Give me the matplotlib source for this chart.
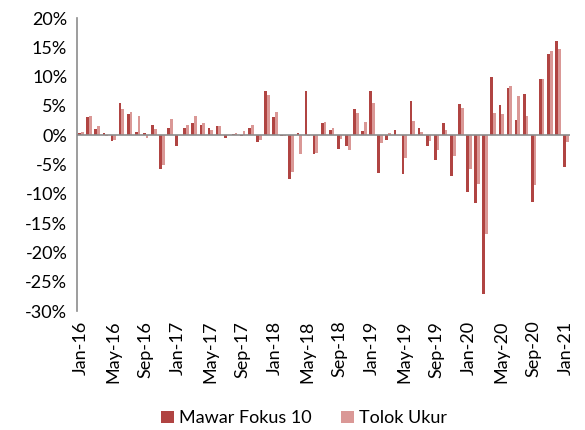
import numpy as np
import pandas as pd
import matplotlib
matplotlib.use("Agg")
import matplotlib.pyplot as plt
from matplotlib.patches import Patch

plt.rcParams["font.family"] = ["Lato", "DejaVu Sans"]

# Monthly returns (%), Jan-16 .. Jan-21
months = pd.date_range("2016-01-01", "2021-01-01", freq="MS").strftime("%b-%y").tolist()

mawar_fokus_10 = [
    0.3, 3.1, 1.05, 0.3, -1.05, 5.5, 3.7, 0.6, 0.4,
    1.7, -5.75, 1.3, -1.85, 1.3, 2.1, 1.7, 1.2, 1.55,
    -0.5, 0.25, -0.15, 1.3, -1.1, 7.55, 3.15, -0.2, -7.4,
    0.3, 7.55, -3.25, 2.1, 0.9, -2.35, -1.8, 4.5, 0.8,
    7.5, -6.4, -0.9, 0.9, -6.65, 5.9, 1.2, -1.85, -4.2,
    2.1, -7.0, 5.3, -9.65, -11.5, -27.1, 9.85, 5.1, 8.0,
    2.6, 7.0, -11.4, 9.55, 13.9, 16.05, -5.35,
]
tolok_ukur = [
    0.5, 3.3, 1.5, -0.1, -0.9, 4.5, 3.9, 3.2, -0.5,
    1.05, -5.1, 2.8, 0.05, 1.7, 3.3, 2.1, 0.9, 1.5,
    0.1, 0.4, 0.65, 1.8, -0.75, 6.8, 3.9, -0.2, -6.2,
    -3.2, -0.1, -3.1, 2.3, 1.3, -0.7, -2.45, 3.8, 2.25,
    5.5, -1.35, 0.35, 0.1, -3.9, 2.4, 0.5, -1.0, -2.45,
    0.95, -3.55, 4.7, -5.75, -8.25, -16.9, 3.85, 3.65, 8.4,
    6.7, 3.2, -8.5, 9.65, 14.3, 14.75, -1.1,
]

series_names = ["Mawar Fokus 10", "Tolok Ukur"]
colors = ["#B04442", "#DA9896"]
y_ticks = [-30, -25, -20, -15, -10, -5, 0, 5, 10, 15, 20]

fig = plt.figure(figsize=(5.85, 4.30), dpi=100)
ax = fig.add_axes([0.1316, 0.2767, 0.8428, 0.6814])

x = np.arange(len(months))
w = 0.34
ax.bar(x - w / 2, mawar_fokus_10, width=w, color=colors[0], linewidth=0, zorder=2)
ax.bar(x + w / 2, tolok_ukur, width=w, color=colors[1], linewidth=0, zorder=2)

ax.axhline(0, color="#8C8C8C", linewidth=1.2, zorder=3)

ax.set_xlim(-0.5, len(months) - 0.5)
ax.set_ylim(-30, 20)
ax.set_yticks(y_ticks)
ax.set_yticklabels([f"{v}%" for v in y_ticks])

tick_idx = list(range(0, len(months), 4))
ax.set_xticks(tick_idx)
ax.set_xticklabels([months[i] for i in tick_idx], rotation=90)

ax.tick_params(axis="both", length=0, labelsize=13, colors="black")
ax.tick_params(axis="y", pad=7)
ax.tick_params(axis="x", pad=7)

for side in ["top", "right", "bottom"]:
    ax.spines[side].set_visible(False)
ax.spines["left"].set_color("#8C8C8C")
ax.spines["left"].set_linewidth(1.2)

handles = [Patch(facecolor=c, edgecolor="none") for c in colors]
fig.legend(handles, series_names, loc="center", bbox_to_anchor=(0.52, 0.027),
           ncol=2, frameon=False, fontsize=13, handlelength=0.7, handleheight=0.7,
           handletextpad=0.3, columnspacing=1.6)

fig.savefig("out.png", dpi=100, facecolor="white")
